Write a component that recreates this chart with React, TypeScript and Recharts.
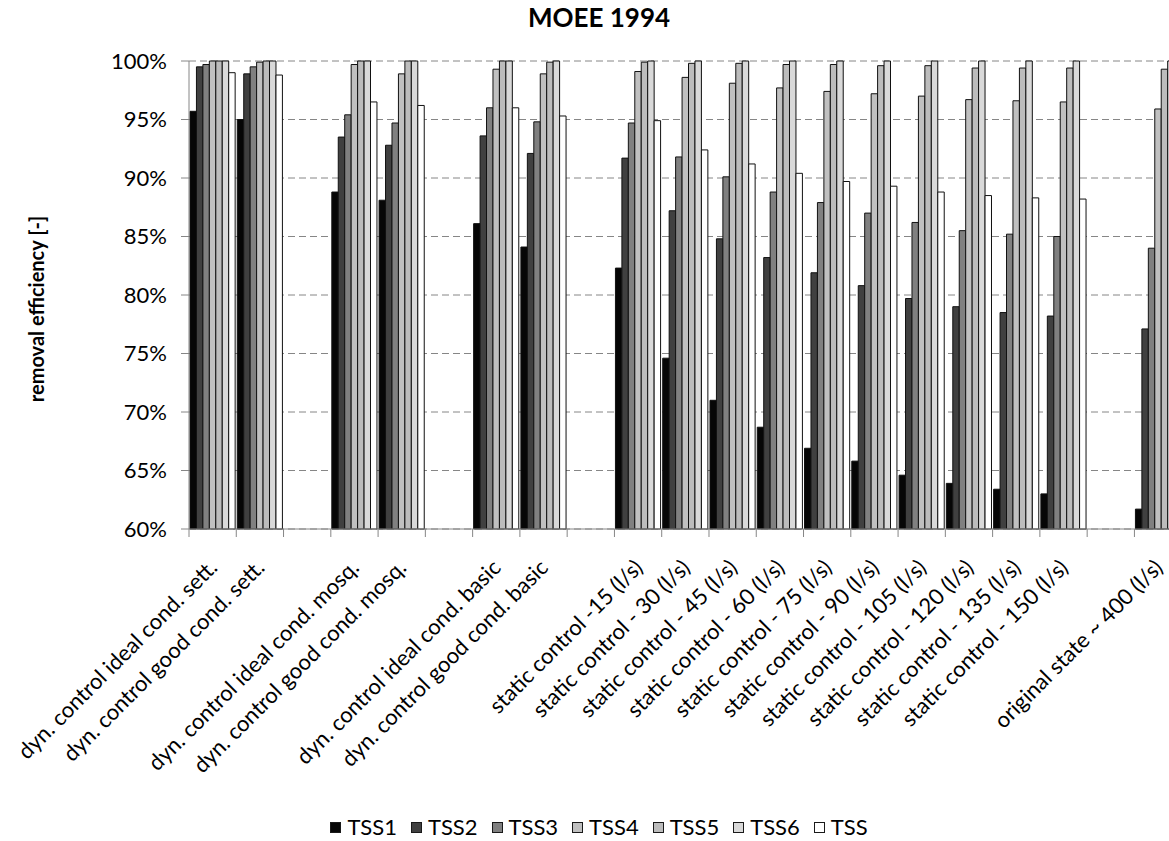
import React from 'react';
import { BarChart, Bar, XAxis, YAxis, CartesianGrid, Legend } from 'recharts';

const categories = [
  'dyn. control ideal cond. sett.',
  'dyn. control good cond. sett.',
  '',
  'dyn. control ideal cond. mosq.',
  'dyn. control good cond. mosq.',
  '',
  'dyn. control ideal cond. basic',
  'dyn. control good cond. basic',
  '',
  'static control -15 (l/s)',
  'static control - 30 (l/s)',
  'static control - 45 (l/s)',
  'static control - 60 (l/s)',
  'static control - 75 (l/s)',
  'static control - 90 (l/s)',
  'static control - 105 (l/s)',
  'static control - 120 (l/s)',
  'static control - 135 (l/s)',
  'static control - 150 (l/s)',
  '',
  'original state ~ 400 (l/s)',
];

const tss1 = [95.7, 95.0, null, 88.8, 88.1, null, 86.1, 84.1, null, 82.3, 74.6, 71.0, 68.7, 66.9, 65.8, 64.6, 63.9, 63.4, 63.0, null, 61.7];
const tss2 = [99.5, 98.9, null, 93.5, 92.8, null, 93.6, 92.1, null, 91.7, 87.2, 84.8, 83.2, 81.9, 80.8, 79.7, 79.0, 78.5, 78.2, null, 77.1];
const tss3 = [99.7, 99.5, null, 95.4, 94.7, null, 96.0, 94.8, null, 94.7, 91.8, 90.1, 88.8, 87.9, 87.0, 86.2, 85.5, 85.2, 85.0, null, 84.0];
const tss4 = [100, 99.9, null, 99.7, 98.9, null, 99.3, 98.9, null, 99.1, 98.6, 98.1, 97.7, 97.4, 97.2, 97.0, 96.7, 96.6, 96.5, null, 95.9];
const tss5 = [100, 100, null, 100, 100, null, 100, 99.9, null, 99.9, 99.8, 99.8, 99.7, 99.7, 99.6, 99.6, 99.4, 99.4, 99.4, null, 99.3];
const tss6 = [100, 100, null, 100, 100, null, 100, 100, null, 100, 100, 100, 100, 100, 100, 100, 100, 100, 100, null, 100];
const tss = [99.0, 98.8, null, 96.5, 96.2, null, 96.0, 95.3, null, 94.9, 92.4, 91.2, 90.4, 89.7, 89.3, 88.8, 88.5, 88.3, 88.2, null, 88.0];

const yTicks = [60, 65, 70, 75, 80, 85, 90, 95, 100];

const series = [
  { key: 'TSS1', values: tss1, color: '#060606' },
  { key: 'TSS2', values: tss2, color: '#404040' },
  { key: 'TSS3', values: tss3, color: '#808080' },
  { key: 'TSS4', values: tss4, color: '#c0c0c0' },
  { key: 'TSS5', values: tss5, color: '#bcbcbc' },
  { key: 'TSS6', values: tss6, color: '#d9d9d9' },
  { key: 'TSS', values: tss, color: '#ffffff' },
];

const data = categories.map((name, i) => {
  const row: Record<string, string | number | null> = { name };
  series.forEach((s) => { row[s.key] = s.values[i]; });
  return row;
});

// layout (px)
const CHART_W = 1198;
const CHART_H = 841;
const PLOT_LEFT = 189;
const PLOT_TOP = 61;
const PLOT_BOTTOM = 529;
const PLOT_RIGHT = 1181.7;
const BAND = (PLOT_RIGHT - PLOT_LEFT) / categories.length;
const FONT = 'Lato, "Open Sans", sans-serif';
const AXIS_GRAY = '#868686';

const XTick = (props: any) => {
  const { x, payload } = props;
  const left = x - BAND / 2;
  const label = payload?.value;
  const tx = x + 6;
  const ty = PLOT_BOTTOM + 40;
  return (
    <g>
      <line x1={left} x2={left} y1={PLOT_BOTTOM} y2={PLOT_BOTTOM + 8} stroke={AXIS_GRAY} />
      {label ? (
        <text
          x={tx}
          y={ty}
          textAnchor="end"
          transform={`rotate(-45, ${tx}, ${ty})`}
          fontFamily={FONT}
          fontSize={22}
          fill="#000"
        >
          {label}
        </text>
      ) : null}
    </g>
  );
};

const renderLegend = () => (
  <div
    style={{
      display: 'flex',
      justifyContent: 'center',
      gap: 14,
      fontFamily: FONT,
      fontSize: 22,
      lineHeight: '26px',
      color: '#000',
    }}
  >
    {series.map((s) => (
      <div key={s.key} style={{ display: 'flex', alignItems: 'center' }}>
        <span
          style={{
            display: 'inline-block',
            width: 11,
            height: 11,
            background: s.color,
            border: '1px solid #1a1a1a',
            boxSizing: 'border-box',
            marginRight: 6,
          }}
        />
        <span>{s.key}</span>
      </div>
    ))}
  </div>
);

export default function App() {
  return (
    <div
      style={{
        position: 'fixed',
        left: 0,
        top: 0,
        width: 1169,
        height: 841,
        overflow: 'hidden',
        background: '#fff',
      }}
    >
      <BarChart
        width={CHART_W}
        height={CHART_H}
        data={data}
        barGap={0}
        margin={{ top: PLOT_TOP, right: CHART_W - PLOT_RIGHT, bottom: 0, left: 0 }}
        style={{ fontFamily: FONT }}
      >
        <text x={599} y={26.7} textAnchor="middle" fontFamily={FONT} fontWeight="bold" fontSize={26} fill="#000">
          MOEE 1994
        </text>
        <text
          x={44}
          y={309}
          textAnchor="middle"
          transform="rotate(-90, 44, 309)"
          fontFamily={FONT}
          fontWeight="bold"
          fontSize={20}
          fill="#000"
        >
          removal efficiency [-]
        </text>
        <CartesianGrid vertical={false} stroke={AXIS_GRAY} strokeDasharray="7 4" />
        <XAxis
          dataKey="name"
          interval={0}
          height={CHART_H - PLOT_BOTTOM}
          tickLine={false}
          axisLine={{ stroke: AXIS_GRAY }}
          tick={<XTick />}
        />
        <YAxis
          domain={[60, 100]}
          ticks={yTicks}
          width={PLOT_LEFT}
          tickSize={8}
          tickMargin={14}
          tickFormatter={(v: number) => `${v}%`}
          axisLine={{ stroke: AXIS_GRAY }}
          tickLine={{ stroke: AXIS_GRAY }}
          tick={{ fill: '#000', fontSize: 22, fontFamily: FONT }}
        />
        <Legend
          layout="horizontal"
          verticalAlign="middle"
          align="center"
          wrapperStyle={{ top: 814, left: 0, width: CHART_W }}
          content={renderLegend}
        />
        {series.map((s) => (
          <Bar
            key={s.key}
            dataKey={s.key}
            fill={s.color}
            stroke="#111"
            strokeWidth={1}
            barSize={6.45}
            isAnimationActive={false}
          />
        ))}
      </BarChart>
    </div>
  );
}
